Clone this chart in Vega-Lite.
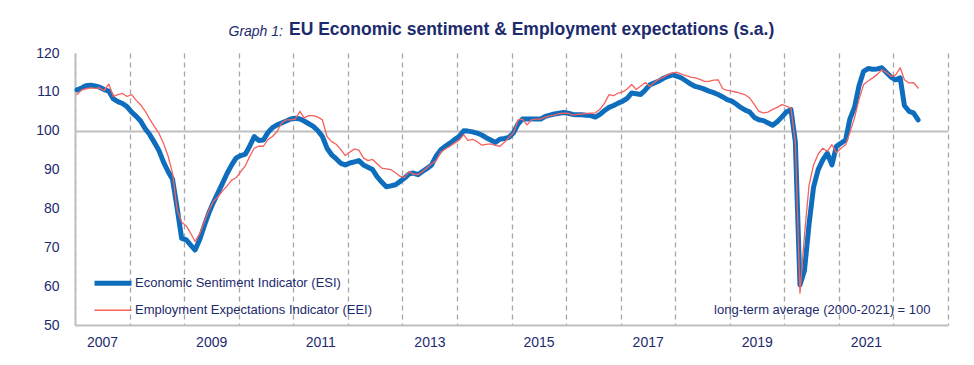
{
  "$schema": "https://vega.github.io/schema/vega-lite/v6.json",
  "width": 873,
  "height": 272,
  "autosize": {"type": "none"},
  "padding": {"left": 75, "top": 53, "right": 26, "bottom": 40},
  "background": "white",
  "config": {
    "view": {"stroke": null},
    "font": "Liberation Sans, Arial, sans-serif",
    "axis": {"labelOverlap": false}
  },
  "title": {
    "text": "EU Economic sentiment & Employment expectations (s.a.)",
    "anchor": "start",
    "frame": "group",
    "dx": 214,
    "offset": -23,
    "baseline": "middle",
    "fontSize": 17.5,
    "fontWeight": "bold",
    "color": "#1C2B6E"
  },
  "data": {
    "values": [
      {"d": "2007-01-15", "ESI": 110.5, "EEI": 109.3},
      {"d": "2007-02-15", "ESI": 111.0, "EEI": 110.5},
      {"d": "2007-03-15", "ESI": 111.6, "EEI": 110.8},
      {"d": "2007-04-15", "ESI": 111.7, "EEI": 111.0},
      {"d": "2007-05-15", "ESI": 111.5, "EEI": 110.9},
      {"d": "2007-06-15", "ESI": 111.2, "EEI": 111.0},
      {"d": "2007-07-15", "ESI": 110.6, "EEI": 110.3},
      {"d": "2007-08-15", "ESI": 110.2, "EEI": 112.0},
      {"d": "2007-09-15", "ESI": 108.2, "EEI": 108.8},
      {"d": "2007-10-15", "ESI": 107.5, "EEI": 109.3},
      {"d": "2007-11-15", "ESI": 107.0, "EEI": 109.6},
      {"d": "2007-12-15", "ESI": 106.2, "EEI": 108.8},
      {"d": "2008-01-15", "ESI": 104.8, "EEI": 109.3},
      {"d": "2008-02-15", "ESI": 103.7, "EEI": 107.8},
      {"d": "2008-03-15", "ESI": 102.5, "EEI": 106.7},
      {"d": "2008-04-15", "ESI": 100.5, "EEI": 105.0},
      {"d": "2008-05-15", "ESI": 99.0, "EEI": 103.0},
      {"d": "2008-06-15", "ESI": 97.0, "EEI": 101.1},
      {"d": "2008-07-15", "ESI": 95.0, "EEI": 99.4},
      {"d": "2008-08-15", "ESI": 92.0, "EEI": 96.8},
      {"d": "2008-09-15", "ESI": 89.5, "EEI": 93.5},
      {"d": "2008-10-15", "ESI": 87.5, "EEI": 89.0},
      {"d": "2008-11-15", "ESI": 80.0, "EEI": 79.5},
      {"d": "2008-12-15", "ESI": 72.3, "EEI": 76.5},
      {"d": "2009-01-15", "ESI": 71.9, "EEI": 75.5},
      {"d": "2009-02-15", "ESI": 70.5, "EEI": 73.5},
      {"d": "2009-03-15", "ESI": 69.3, "EEI": 71.5},
      {"d": "2009-04-15", "ESI": 72.0, "EEI": 73.5},
      {"d": "2009-05-15", "ESI": 75.5, "EEI": 76.5},
      {"d": "2009-06-15", "ESI": 78.8, "EEI": 79.5},
      {"d": "2009-07-15", "ESI": 81.5, "EEI": 81.8},
      {"d": "2009-08-15", "ESI": 84.0, "EEI": 83.0},
      {"d": "2009-09-15", "ESI": 86.5, "EEI": 84.5},
      {"d": "2009-10-15", "ESI": 89.0, "EEI": 85.8},
      {"d": "2009-11-15", "ESI": 91.2, "EEI": 87.3},
      {"d": "2009-12-15", "ESI": 93.0, "EEI": 87.9},
      {"d": "2010-01-15", "ESI": 93.6, "EEI": 89.5},
      {"d": "2010-02-15", "ESI": 94.0, "EEI": 91.0},
      {"d": "2010-03-15", "ESI": 96.0, "EEI": 93.4},
      {"d": "2010-04-15", "ESI": 98.5, "EEI": 95.5},
      {"d": "2010-05-15", "ESI": 97.5, "EEI": 96.0},
      {"d": "2010-06-15", "ESI": 97.6, "EEI": 96.0},
      {"d": "2010-07-15", "ESI": 99.5, "EEI": 97.7},
      {"d": "2010-08-15", "ESI": 100.8, "EEI": 98.5},
      {"d": "2010-09-15", "ESI": 101.5, "EEI": 99.8},
      {"d": "2010-10-15", "ESI": 102.0, "EEI": 102.0},
      {"d": "2010-11-15", "ESI": 102.5, "EEI": 102.8},
      {"d": "2010-12-15", "ESI": 103.0, "EEI": 102.8},
      {"d": "2011-01-15", "ESI": 103.2, "EEI": 103.0},
      {"d": "2011-02-15", "ESI": 103.0, "EEI": 105.0},
      {"d": "2011-03-15", "ESI": 102.5, "EEI": 103.3},
      {"d": "2011-04-15", "ESI": 101.8, "EEI": 103.9},
      {"d": "2011-05-15", "ESI": 101.1, "EEI": 103.9},
      {"d": "2011-06-15", "ESI": 100.0, "EEI": 103.5},
      {"d": "2011-07-15", "ESI": 98.5, "EEI": 102.8},
      {"d": "2011-08-15", "ESI": 95.5, "EEI": 98.5},
      {"d": "2011-09-15", "ESI": 93.8, "EEI": 97.2},
      {"d": "2011-10-15", "ESI": 92.8, "EEI": 96.5},
      {"d": "2011-11-15", "ESI": 91.6, "EEI": 95.2},
      {"d": "2011-12-15", "ESI": 91.2, "EEI": 93.6},
      {"d": "2012-01-15", "ESI": 91.7, "EEI": 94.5},
      {"d": "2012-02-15", "ESI": 92.0, "EEI": 95.3},
      {"d": "2012-03-15", "ESI": 92.3, "EEI": 95.0},
      {"d": "2012-04-15", "ESI": 91.2, "EEI": 93.0},
      {"d": "2012-05-15", "ESI": 90.6, "EEI": 92.3},
      {"d": "2012-06-15", "ESI": 90.0, "EEI": 92.6},
      {"d": "2012-07-15", "ESI": 88.2, "EEI": 91.5},
      {"d": "2012-08-15", "ESI": 86.8, "EEI": 90.4},
      {"d": "2012-09-15", "ESI": 85.6, "EEI": 90.2},
      {"d": "2012-10-15", "ESI": 85.8, "EEI": 90.0},
      {"d": "2012-11-15", "ESI": 86.1, "EEI": 89.2},
      {"d": "2012-12-15", "ESI": 86.9, "EEI": 88.3},
      {"d": "2013-01-15", "ESI": 87.8, "EEI": 88.0},
      {"d": "2013-02-15", "ESI": 88.9, "EEI": 89.5},
      {"d": "2013-03-15", "ESI": 89.1, "EEI": 88.8},
      {"d": "2013-04-15", "ESI": 88.7, "EEI": 88.7},
      {"d": "2013-05-15", "ESI": 89.5, "EEI": 89.5},
      {"d": "2013-06-15", "ESI": 90.3, "EEI": 90.5},
      {"d": "2013-07-15", "ESI": 91.2, "EEI": 91.5},
      {"d": "2013-08-15", "ESI": 93.5, "EEI": 92.3},
      {"d": "2013-09-15", "ESI": 95.1, "EEI": 94.5},
      {"d": "2013-10-15", "ESI": 96.0, "EEI": 95.3},
      {"d": "2013-11-15", "ESI": 96.8, "EEI": 96.0},
      {"d": "2013-12-15", "ESI": 97.7, "EEI": 96.8},
      {"d": "2014-01-15", "ESI": 98.5, "EEI": 97.5},
      {"d": "2014-02-15", "ESI": 100.0, "EEI": 99.0},
      {"d": "2014-03-15", "ESI": 99.9, "EEI": 97.5},
      {"d": "2014-04-15", "ESI": 99.7, "EEI": 97.8},
      {"d": "2014-05-15", "ESI": 99.4, "EEI": 97.2},
      {"d": "2014-06-15", "ESI": 98.9, "EEI": 96.3},
      {"d": "2014-07-15", "ESI": 98.2, "EEI": 96.5},
      {"d": "2014-08-15", "ESI": 97.6, "EEI": 96.6},
      {"d": "2014-09-15", "ESI": 97.0, "EEI": 96.2},
      {"d": "2014-10-15", "ESI": 97.8, "EEI": 96.0},
      {"d": "2014-11-15", "ESI": 98.0, "EEI": 97.0},
      {"d": "2014-12-15", "ESI": 98.3, "EEI": 98.3},
      {"d": "2015-01-15", "ESI": 99.5, "EEI": 99.5},
      {"d": "2015-02-15", "ESI": 101.8, "EEI": 102.8},
      {"d": "2015-03-15", "ESI": 103.0, "EEI": 103.0},
      {"d": "2015-04-15", "ESI": 103.0, "EEI": 101.5},
      {"d": "2015-05-15", "ESI": 103.0, "EEI": 102.8},
      {"d": "2015-06-15", "ESI": 103.0, "EEI": 103.0},
      {"d": "2015-07-15", "ESI": 103.0, "EEI": 103.0},
      {"d": "2015-08-15", "ESI": 103.7, "EEI": 103.5},
      {"d": "2015-09-15", "ESI": 104.0, "EEI": 103.8},
      {"d": "2015-10-15", "ESI": 104.3, "EEI": 104.0},
      {"d": "2015-11-15", "ESI": 104.5, "EEI": 104.4},
      {"d": "2015-12-15", "ESI": 104.7, "EEI": 104.5},
      {"d": "2016-01-15", "ESI": 104.5, "EEI": 104.5},
      {"d": "2016-02-15", "ESI": 104.2, "EEI": 104.0},
      {"d": "2016-03-15", "ESI": 104.1, "EEI": 104.2},
      {"d": "2016-04-15", "ESI": 104.1, "EEI": 104.3},
      {"d": "2016-05-15", "ESI": 104.0, "EEI": 104.4},
      {"d": "2016-06-15", "ESI": 103.9, "EEI": 104.5},
      {"d": "2016-07-15", "ESI": 103.5, "EEI": 104.6},
      {"d": "2016-08-15", "ESI": 104.2, "EEI": 105.5},
      {"d": "2016-09-15", "ESI": 105.2, "EEI": 107.1},
      {"d": "2016-10-15", "ESI": 106.0, "EEI": 109.3},
      {"d": "2016-11-15", "ESI": 106.5, "EEI": 109.0},
      {"d": "2016-12-15", "ESI": 107.1, "EEI": 109.7},
      {"d": "2017-01-15", "ESI": 107.6, "EEI": 110.0},
      {"d": "2017-02-15", "ESI": 108.4, "EEI": 110.8},
      {"d": "2017-03-15", "ESI": 109.7, "EEI": 111.9},
      {"d": "2017-04-15", "ESI": 109.5, "EEI": 110.6},
      {"d": "2017-05-15", "ESI": 109.3, "EEI": 111.5},
      {"d": "2017-06-15", "ESI": 110.5, "EEI": 112.4},
      {"d": "2017-07-15", "ESI": 111.8, "EEI": 111.4},
      {"d": "2017-08-15", "ESI": 112.3, "EEI": 112.5},
      {"d": "2017-09-15", "ESI": 112.8, "EEI": 113.3},
      {"d": "2017-10-15", "ESI": 113.5, "EEI": 113.8},
      {"d": "2017-11-15", "ESI": 114.0, "EEI": 114.5},
      {"d": "2017-12-15", "ESI": 114.4, "EEI": 114.9},
      {"d": "2018-01-15", "ESI": 114.0, "EEI": 115.0},
      {"d": "2018-02-15", "ESI": 113.5, "EEI": 114.5},
      {"d": "2018-03-15", "ESI": 112.8, "EEI": 114.2},
      {"d": "2018-04-15", "ESI": 112.0, "EEI": 113.8},
      {"d": "2018-05-15", "ESI": 111.4, "EEI": 113.6},
      {"d": "2018-06-15", "ESI": 111.1, "EEI": 113.2},
      {"d": "2018-07-15", "ESI": 110.7, "EEI": 112.7},
      {"d": "2018-08-15", "ESI": 110.2, "EEI": 112.7},
      {"d": "2018-09-15", "ESI": 109.8, "EEI": 113.0},
      {"d": "2018-10-15", "ESI": 109.3, "EEI": 113.1},
      {"d": "2018-11-15", "ESI": 108.7, "EEI": 110.8},
      {"d": "2018-12-15", "ESI": 108.0, "EEI": 110.4},
      {"d": "2019-01-15", "ESI": 107.6, "EEI": 110.2},
      {"d": "2019-02-15", "ESI": 106.8, "EEI": 109.9},
      {"d": "2019-03-15", "ESI": 106.0, "EEI": 109.6},
      {"d": "2019-04-15", "ESI": 105.3, "EEI": 109.2},
      {"d": "2019-05-15", "ESI": 104.8, "EEI": 108.4},
      {"d": "2019-06-15", "ESI": 103.4, "EEI": 106.7},
      {"d": "2019-07-15", "ESI": 102.8, "EEI": 105.0},
      {"d": "2019-08-15", "ESI": 102.6, "EEI": 104.6},
      {"d": "2019-09-15", "ESI": 102.0, "EEI": 104.8},
      {"d": "2019-10-15", "ESI": 101.4, "EEI": 105.5},
      {"d": "2019-11-15", "ESI": 102.3, "EEI": 106.0},
      {"d": "2019-12-15", "ESI": 103.5, "EEI": 106.7},
      {"d": "2020-01-15", "ESI": 104.8, "EEI": 106.3},
      {"d": "2020-02-15", "ESI": 105.4, "EEI": 105.8},
      {"d": "2020-03-15", "ESI": 97.2, "EEI": 97.0},
      {"d": "2020-04-15", "ESI": 60.3, "EEI": 58.2},
      {"d": "2020-05-15", "ESI": 64.0, "EEI": 73.0},
      {"d": "2020-06-15", "ESI": 76.0, "EEI": 86.0},
      {"d": "2020-07-15", "ESI": 85.5, "EEI": 91.2},
      {"d": "2020-08-15", "ESI": 90.0, "EEI": 94.0},
      {"d": "2020-09-15", "ESI": 92.5, "EEI": 95.5},
      {"d": "2020-10-15", "ESI": 94.2, "EEI": 94.7},
      {"d": "2020-11-15", "ESI": 91.2, "EEI": 96.4},
      {"d": "2020-12-15", "ESI": 96.0, "EEI": 94.3},
      {"d": "2021-01-15", "ESI": 96.8, "EEI": 95.5},
      {"d": "2021-02-15", "ESI": 97.7, "EEI": 96.4},
      {"d": "2021-03-15", "ESI": 103.0, "EEI": 99.5},
      {"d": "2021-04-15", "ESI": 106.0, "EEI": 103.3},
      {"d": "2021-05-15", "ESI": 111.5, "EEI": 108.0},
      {"d": "2021-06-15", "ESI": 115.3, "EEI": 111.9},
      {"d": "2021-07-15", "ESI": 116.0, "EEI": 112.8},
      {"d": "2021-08-15", "ESI": 115.8, "EEI": 113.6},
      {"d": "2021-09-15", "ESI": 115.9, "EEI": 114.5},
      {"d": "2021-10-15", "ESI": 116.2, "EEI": 115.7},
      {"d": "2021-11-15", "ESI": 115.0, "EEI": 115.0},
      {"d": "2021-12-15", "ESI": 113.8, "EEI": 114.0},
      {"d": "2022-01-15", "ESI": 113.1, "EEI": 114.3},
      {"d": "2022-02-15", "ESI": 113.6, "EEI": 116.2},
      {"d": "2022-03-15", "ESI": 106.5, "EEI": 113.1},
      {"d": "2022-04-15", "ESI": 105.0, "EEI": 112.3},
      {"d": "2022-05-15", "ESI": 104.6, "EEI": 112.4},
      {"d": "2022-06-15", "ESI": 102.8, "EEI": 111.0}
    ]
  },
  "transform": [{"fold": ["ESI", "EEI"], "as": ["series", "value"]}],
  "mark": {"type": "line", "strokeJoin": "round", "strokeCap": "round"},
  "encoding": {
    "x": {
      "field": "d",
      "type": "temporal",
      "scale": {
        "type": "utc",
        "domain": [
          {"year": 2007, "month": 1, "date": 1, "utc": true},
          {"year": 2023, "month": 1, "date": 1, "utc": true}
        ]
      },
      "axis": {
        "title": "long-term average (2000-2021) = 100",
        "titleX": 855,
        "titleY": -16,
        "titleAnchor": null,
        "titleAlign": "right",
        "titleBaseline": "middle",
        "titleFontWeight": "normal",
        "titleFontSize": 13,
        "titleColor": "#1C2B6E",
        "tickCount": {"interval": "year", "step": 1},
        "grid": true,
        "gridDash": [5, 4],
        "gridColor": "#A6A6A6",
        "gridWidth": 1.3,
        "ticks": false,
        "tickSize": 0,
        "domainColor": "#BFBFBF",
        "domainWidth": 2,
        "labelExpr": "(utcyear(datum.value) % 2 == 1 && utcyear(datum.value) < 2023) ? '' + utcyear(datum.value) : ''",
        "labelOffset": 27,
        "labelPadding": 10,
        "labelFontSize": 14,
        "labelColor": "#1C2B6E",
        "labelFlush": false,
        "labelOverlap": false,
        "labelBound": false
      }
    },
    "y": {
      "field": "value",
      "type": "quantitative",
      "scale": {"domain": [50, 120], "nice": false, "zero": false},
      "axis": {
        "title": "Graph 1:",
        "titleAngle": 0,
        "titleX": 153,
        "titleY": -22,
        "titleAnchor": null,
        "titleAlign": "left",
        "titleBaseline": "middle",
        "titleFontStyle": "italic",
        "titleFontWeight": "normal",
        "titleFontSize": 14,
        "titleColor": "#1C2B6E",
        "values": [50, 60, 70, 80, 90, 100, 110, 120],
        "grid": true,
        "gridColor": {"condition": {"test": "datum.value === 100", "value": "#BFBFBF"}, "value": "transparent"},
        "gridWidth": 2,
        "ticks": false,
        "tickSize": 0,
        "labelPadding": 16,
        "labelFontSize": 14,
        "labelOverlap": false,
        "labelSeparation": 0,
        "labelColor": "#1C2B6E",
        "domainColor": "#BFBFBF",
        "domainWidth": 2
      }
    },
    "color": {
      "field": "series",
      "type": "nominal",
      "scale": {"domain": ["ESI", "EEI"], "range": ["#0E6EBD", "#F5615E"]},
      "legend": {
        "orient": "none",
        "legendX": 17,
        "legendY": 217,
        "title": null,
        "padding": 0,
        "symbolType": "stroke",
        "symbolSize": 1369,
        "clipHeight": 26.5,
        "rowPadding": 0,
        "labelOffset": 1,
        "labelLimit": 500,
        "labelFontSize": 13,
        "labelColor": "#1C2B6E",
        "labelExpr": "datum.label == 'ESI' ? 'Economic Sentiment Indicator (ESI)' : 'Employment Expectations Indicator (EEI)'"
      }
    },
    "strokeWidth": {
      "field": "series",
      "type": "nominal",
      "scale": {"domain": ["ESI", "EEI"], "range": [5, 1.3]}
    }
  }
}
